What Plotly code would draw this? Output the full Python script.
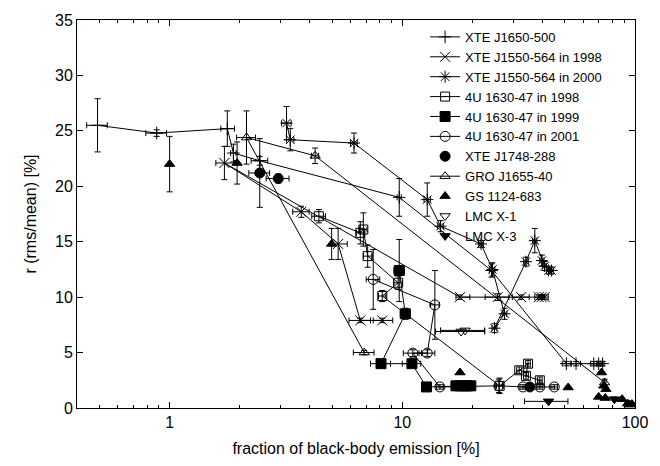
import plotly.graph_objects as go

# ---------------- data ----------------
# XTE J1650-500
j1650_x = [0.49, 0.88, 1.77, 1.88, 2.44, 9.7, 24.2, 50.7, 55.8, 66.5, 69.8, 72.6]
j1650_y = [25.5, 24.8, 25.2, 23.0, 22.3, 19.0, 12.4, 4.0, 4.0, 4.0, 4.0, 4.0]
j1650_ey = [2.4, 0.3, 1.6, 0.8, 0.4, 1.7, 0.6, 0.2, 0.2, 0.2, 0.2, 0.2]
j1650_exm = [0.05, 0.09, 0.11, 0.05, 0.2, 0.2, 0.5, 2.0, 2.5, 2.0, 1.0, 1.0]
j1650_exp = [0.05, 0.09, 0.13, 0.05, 0.2, 0.2, 0.5, 2.0, 2.5, 2.0, 1.0, 1.0]

# XTE J1550-564 in 1998
j1550a_x = [8.2, 6.6, 5.3, 3.68, 1.72, 17.7, 25.7, 32.4, 38.6, 39.7, 40.9]
j1550a_y = [7.9, 7.9, 14.8, 17.7, 22.1, 10.0, 10.0, 10.0, 10.0, 10.0, 10.0]
j1550a_ey = [0.2, 0.2, 1.4, 0.5, 1.5, 0.2, 0.3, 0.2, 0.2, 0.2, 0.2]
j1550a_exm = [0.7, 0.7, 0.3, 0.3, 0.14, 0.7, 3.0, 2.7, 1.5, 1.0, 1.0]
j1550a_exp = [0.9, 0.7, 0.5, 0.3, 0.18, 1.8, 3.0, 2.7, 1.5, 1.0, 1.5]

# XTE J1550-564 in 2000
j1550b_x = [3.18, 3.3, 6.2, 12.8, 14.6, 21.8, 24.4, 27.5, 24.9, 34.0, 37.1, 39.8, 40.9, 42.5, 43.8]
j1550b_y = [25.7, 24.2, 23.9, 18.8, 16.4, 14.8, 12.5, 8.5, 7.2, 13.2, 15.1, 13.3, 12.8, 12.4, 12.4]
j1550b_ey = [1.5, 1.0, 0.9, 1.5, 0.5, 0.3, 0.6, 0.5, 0.4, 0.4, 1.1, 0.5, 0.4, 0.3, 0.3]
j1550b_ex = [0.15, 0.12, 0.2, 0.4, 0.4, 0.5, 0.6, 0.6, 0.6, 0.8, 0.8, 0.8, 0.8, 0.8, 0.8]

# 4U 1630-47 in 1998
u98_x = [4.38, 6.6, 6.8, 7.1, 9.6, 8.2, 26.2, 31.8, 34.7, 34.0, 39.0]
u98_y = [17.3, 15.8, 16.1, 13.7, 11.3, 10.1, 2.0, 3.4, 4.0, 2.9, 2.5]
u98_ey = [0.6, 1.0, 1.5, 1.0, 0.6, 0.5, 0.7, 0.3, 0.3, 0.3, 0.3]
u98_ex = [0.3, 0.25, 0.25, 0.3, 0.4, 0.3, 0.8, 0.8, 0.8, 0.8, 0.9]

# 4U 1630-47 in 1999
u99_x = [9.7, 10.3, 8.1, 11.0, 12.7, 17.0, 17.7, 18.4, 19.0, 19.7]
u99_y = [12.4, 8.5, 4.0, 4.0, 1.9, 2.0, 2.0, 2.0, 2.0, 2.0]
u99_ey = [2.8, 0.5, 0.2, 0.3, 0.2, 0.2, 0.2, 0.2, 0.2, 0.2]
u99_ex = [0.5, 0.5, 0.8, 1.0, 0.5, 0.5, 0.5, 0.5, 0.5, 0.5]

# 4U 1630-47 in 2001
u01_x = [7.5, 13.8, 12.8, 11.1, 14.5, 26.0, 33.0, 39.0, 45.0]
u01_y = [11.6, 9.3, 4.95, 4.95, 1.9, 2.0, 1.9, 1.9, 1.9]
u01_ey = [2.7, 3.1, 0.3, 0.3, 0.2, 0.6, 0.2, 0.2, 0.2]
u01_ex = [0.5, 0.6, 1.0, 1.0, 0.5, 1.0, 1.0, 1.2, 1.5]

# XTE J1748-288
j1748_x = [2.44, 2.93, 35.3]
j1748_y = [21.2, 20.7, 1.9]
j1748_ey = [3.1, 0.4, 0.2]
j1748_ex = [0.25, 0.33, 0.8]

# GRO J1655-40
gro_x = [6.86, 2.14, 4.22, 74.0]
gro_y = [5.0, 24.4, 22.75, 2.3]
gro_ey = [0.2, 2.4, 0.7, 0.3]
gro_ex = [0.7, 0.2, 0.15, 1.0]

# GS 1124-683
gs_x = [1.0, 1.95, 4.97, 17.7, 51.6, 71.8, 73.4, 75.0, 69.8, 74.5, 88.0, 93.0, 95.0, 97.0]
gs_y = [22.0, 22.1, 14.8, 3.2, 1.85, 3.2, 2.0, 1.7, 1.0, 0.9, 0.8, 0.4, 0.3, 0.35]
gs_ey = [2.5, 1.9, 1.4, 0.1, 0.1, 0.1, 0.1, 0.1, 0.1, 0.1, 0.1, 0.1, 0.1, 0.1]

# LMC X-1
lmc1_x = [17.9, 18.6]
lmc1_y = [6.9, 7.0]
lmc1_exm = [4.0, 4.0]
lmc1_exp = [4.7, 4.0]

# LMC X-3
lmc3_x = [42.5, 81.5]
lmc3_y = [0.6, 0.8]
lmc3_exm = [9.0, 1.0]
lmc3_exp = [9.0, 1.0]

FONT = "Liberation Sans, Arial, Helvetica, sans-serif"
BLACK = "black"

fig = go.Figure()


def add(name, x, y, symbol, size, ey=None, exm=None, exp=None, lines=True):
    ex_dict = dict(visible=False)
    if exm is not None:
        ex_dict = dict(type="data", symmetric=False, array=exp, arrayminus=exm,
                       color=BLACK, thickness=1, width=3)
    ey_dict = dict(visible=False)
    if ey is not None:
        ey_dict = dict(type="data", array=ey, color=BLACK, thickness=1, width=3)
    fig.add_trace(go.Scatter(
        x=x, y=y, name=name,
        mode="lines+markers" if lines else "markers",
        line=dict(color=BLACK, width=1),
        marker=dict(symbol=symbol, size=size, color=BLACK,
                    line=dict(color=BLACK, width=1)),
        error_x=ex_dict, error_y=ey_dict,
    ))


add("XTE J1650-500", j1650_x, j1650_y, "cross-thin-open", 9, j1650_ey, j1650_exm, j1650_exp)
add("XTE J1550-564 in 1998", j1550a_x, j1550a_y, "x-thin-open", 10, j1550a_ey, j1550a_exm, j1550a_exp)
add("XTE J1550-564 in 2000", j1550b_x, j1550b_y, "asterisk-open", 10, j1550b_ey, j1550b_ex, j1550b_ex)
add("4U 1630-47 in 1998", u98_x, u98_y, "square-open-dot", 9, u98_ey, u98_ex, u98_ex)
add("4U 1630-47 in 1999", u99_x, u99_y, "square", 10, u99_ey, u99_ex, u99_ex)
add("4U 1630-47 in 2001", u01_x, u01_y, "circle-open", 10, u01_ey, u01_ex, u01_ex)
add("XTE J1748-288", j1748_x, j1748_y, "circle", 10, j1748_ey, j1748_ex, j1748_ex, lines=False)
add("GRO J1655-40", gro_x, gro_y, "triangle-up-open", 9, gro_ey, gro_ex, gro_ex)
add("GS 1124-683", gs_x, gs_y, "triangle-up", 9, gs_ey, None, None, lines=False)
add("LMC X-1", lmc1_x, lmc1_y, "triangle-down-open", 9, None, lmc1_exm, lmc1_exp, lines=False)
add("LMC X-3", lmc3_x, lmc3_y, "triangle-down", 9, None, lmc3_exm, lmc3_exp, lines=False)

axis_common = dict(
    showline=True, linecolor=BLACK, linewidth=1, mirror="allticks",
    ticks="inside", tickcolor=BLACK, ticklen=6, tickwidth=1,
    showgrid=False, zeroline=False,
    tickfont=dict(family=FONT, size=16, color=BLACK),
)

fig.update_layout(
    width=660, height=466,
    margin=dict(l=77, r=17, t=16, b=53),
    paper_bgcolor="white", plot_bgcolor="white",
    font=dict(family=FONT, size=16, color=BLACK),
    showlegend=True,
    legend=dict(x=0.95, y=0.995, xanchor="right", yanchor="top",
                bgcolor="rgba(0,0,0,0)", borderwidth=0,
                font=dict(family=FONT, size=13, color=BLACK),
                tracegroupgap=0, itemwidth=30),
    xaxis=dict(type="log", range=[-0.398, 2.0],
               tickvals=[1, 10, 100], ticktext=["1", "10", "100"],
               minor=dict(ticks="inside", ticklen=3, tickcolor=BLACK,
                          tickvals=[0.4, 0.5, 0.6, 0.7, 0.8, 0.9, 2, 3, 4, 5, 6, 7, 8, 9,
                                    20, 30, 40, 50, 60, 70, 80, 90], showgrid=False),
               title=dict(text="fraction of black-body emission [%]",
                          font=dict(family=FONT, size=16, color=BLACK), standoff=12),
               **axis_common),
    yaxis=dict(range=[0, 35], tickvals=[0, 5, 10, 15, 20, 25, 30, 35],
               title=dict(text="r (rms/mean) [%]",
                          font=dict(family=FONT, size=16, color=BLACK), standoff=14),
               **axis_common),
)

fig.write_html("out.html")
